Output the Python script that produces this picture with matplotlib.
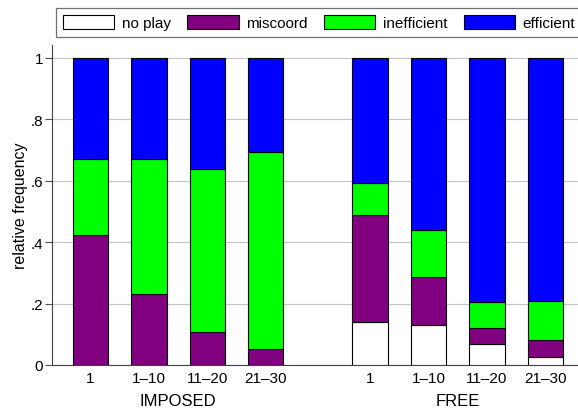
import matplotlib
matplotlib.use("Agg")
import matplotlib.pyplot as plt
import matplotlib.patches as mpatches
import numpy as np

plt.rcParams['font.family'] = ['Liberation Sans', 'DejaVu Sans']

categories = ["1", "1\u201310", "11\u201320", "21\u201330"]
groups = ["IMPOSED", "FREE"]
series = ["no play", "miscoord", "inefficient", "efficient"]
colors = ["#ffffff", "#800080", "#00ff00", "#0000ff"]

# values per group (IMPOSED then FREE), one list per series
no_play     = [0.000, 0.000, 0.000, 0.000,   0.141, 0.129, 0.067, 0.026]
miscoord    = [0.422, 0.231, 0.107, 0.052,   0.348, 0.157, 0.052, 0.054]
inefficient = [0.250, 0.441, 0.531, 0.640,   0.104, 0.155, 0.085, 0.129]
efficient   = [0.328, 0.328, 0.362, 0.308,   0.407, 0.559, 0.796, 0.791]

W, H = 578, 410
fig = plt.figure(figsize=(W / 100, H / 100), dpi=100)
ax = fig.add_axes([51.7 / W, 44 / H, 1 - 51.7 / W, 320 / H])

group_gap = 1.79
xpos = np.array([0, 1, 2, 3, group_gap + 3, group_gap + 4, group_gap + 5, group_gap + 6])
bottom = np.zeros(len(xpos))
for vals, col in zip([no_play, miscoord, inefficient, efficient], colors):
    ax.bar(xpos, vals, width=0.605, bottom=bottom, color=col,
           edgecolor="black", linewidth=0.8, zorder=3)
    bottom += np.array(vals)

ax.set_xlim(-0.664, 8.35)
ax.set_ylim(0, 1.042)
ax.set_xticks(xpos)
ax.set_xticklabels(categories * 2, fontsize=11)
ax.tick_params(axis="x", length=0, pad=4)
ax.set_yticks([0, 0.2, 0.4, 0.6, 0.8, 1.0])
ax.set_yticklabels(["0", ".2", ".4", ".6", ".8", "1"], fontsize=11)
ax.tick_params(axis="y", length=4.7, width=0.8, color="0.3", pad=1.5)
ax.yaxis.grid(True, color="#c4c4c4", linewidth=0.8)
ax.set_axisbelow(True)
for s in ["top", "right"]:
    ax.spines[s].set_visible(False)
for s in ["left", "bottom"]:
    ax.spines[s].set_color("0.25")
    ax.spines[s].set_linewidth(0.8)

ax.set_ylabel("relative frequency", fontsize=11.5)
ax.yaxis.set_label_coords(-0.045, 0.5)

for g, center in zip(groups, [xpos[:4].mean(), xpos[4:].mean()]):
    ax.text(center, -0.112, g, transform=ax.get_xaxis_transform(),
            ha="center", va="center", fontsize=12)

handles = [mpatches.Patch(facecolor=c, edgecolor="black", linewidth=0.8) for c in colors]
fs = 11
leg = fig.legend(handles, series, loc="upper left",
                 bbox_to_anchor=(55.7 / W, 1 - 9.3 / H), ncol=4, fontsize=fs,
                 frameon=True, fancybox=False, borderaxespad=0,
                 borderpad=0.45, handlelength=3.38, handleheight=1.0,
                 handletextpad=0.5, columnspacing=1.05)
leg.get_frame().set_edgecolor("0.3")
leg.get_frame().set_linewidth(0.9)

fig.savefig("out.png", dpi=100)
